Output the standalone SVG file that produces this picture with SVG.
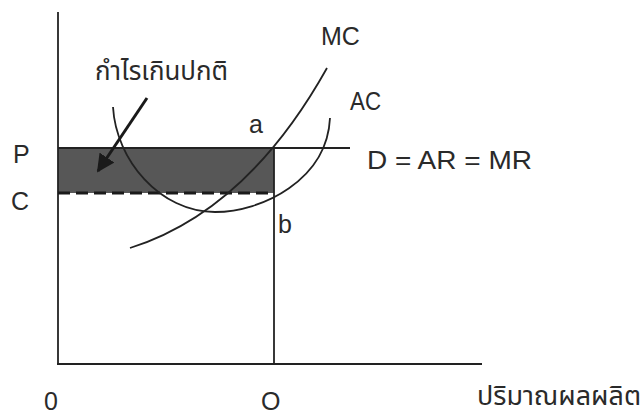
<svg xmlns="http://www.w3.org/2000/svg" width="644" height="416" viewBox="0 0 644 416">
<defs>
<style>
.ln{stroke:#222;stroke-width:1.8;fill:none}
.t{font-family:"Liberation Sans","Noto Sans",sans-serif;fill:#2a2a2a;font-size:25px}
.th{font-family:"Noto Sans Thai","Noto Sans","DejaVu Sans",sans-serif;fill:#2a2a2a;font-size:26px}
</style>
<marker id="ah" viewBox="0 0 10 10" refX="9" refY="5" markerWidth="6" markerHeight="6" orient="auto" markerUnits="strokeWidth">
<path d="M0,0 L10,5 L0,10 z" fill="#1a1a1a"/>
</marker>
</defs>
<rect width="644" height="416" fill="#fff"/>
<g id="profit-area">
<rect x="58" y="148" width="216" height="45" fill="#575757"/>
</g>
<g id="axes">
<line class="ln" x1="58" y1="12" x2="58" y2="364"/>
<line class="ln" x1="57" y1="364" x2="482" y2="364"/>
</g>
<g id="connectors">
<line class="ln" x1="58" y1="148" x2="350" y2="148"/>
<line x1="58" y1="193" x2="274" y2="193" stroke="#1a1a1a" stroke-width="3" stroke-dasharray="12 6"/>
<line class="ln" x1="274" y1="148" x2="274" y2="364"/>
<path class="ln" d="M130,248 Q247,211 327,68"/>
<path class="ln" d="M113,107 C116,160 160,212 215,212 C262,212 327,180 330,118"/>
<line stroke="#1a1a1a" stroke-width="3" x1="147" y1="98" x2="98" y2="171" marker-end="url(#ah)"/>
</g>
<g id="labels">
<text class="th" x="95" y="80" textLength="133" lengthAdjust="spacingAndGlyphs">กำไรเกินปกติ</text>
<text class="t" x="321" y="45">MC</text>
<text class="t" x="350" y="110" textLength="31" lengthAdjust="spacingAndGlyphs">AC</text>
<text class="t" x="249" y="133">a</text>
<text class="t" x="13" y="163">P</text>
<text class="t" x="11" y="210">C</text>
<text class="t" x="278" y="233">b</text>
<text class="t" x="367" y="169" textLength="165" lengthAdjust="spacingAndGlyphs">D = AR = MR</text>
<text class="t" x="44" y="410">0</text>
<text class="t" x="261" y="410">O</text>
<text class="th" x="477" y="405" textLength="164" lengthAdjust="spacingAndGlyphs">ปริมาณผลผลิต</text>
</g>
</svg>
